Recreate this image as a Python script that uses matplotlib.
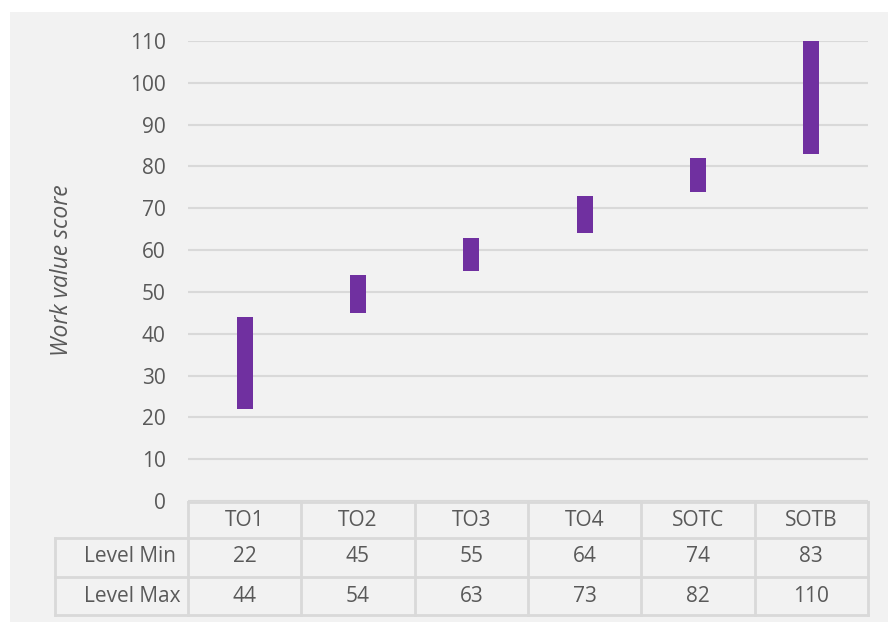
import matplotlib.pyplot as plt
from matplotlib.patches import Rectangle
import numpy as np

# Work value ranges per level
levels = ['TO1', 'TO2', 'TO3', 'TO4', 'SOTC', 'SOTB']
level_min = [22, 45, 55, 64, 74, 83]
level_max = [44, 54, 63, 73, 82, 110]
row_names = ['Level Min', 'Level Max']

bar_color = '#7030a0'
grid_color = '#d9d9d9'
text_color = '#595959'
bg_color = '#f2f2f2'
fs = 15

plt.rcParams['font.family'] = ['Open Sans', 'DejaVu Sans']

W, H = 888, 625
fig = plt.figure(figsize=(W / 100, H / 100), dpi=100)
fig.patch.set_facecolor('white')
fig.patches.append(Rectangle((10 / W, 3 / H), 1 - 10 / W, 1 - 15 / H,
                             transform=fig.transFigure, facecolor=bg_color,
                             edgecolor='none', zorder=-10))

ax = fig.add_axes([188 / W, 1 - 501 / H, 680 / W, 460 / H])
ax.set_facecolor('none')

x = np.arange(len(levels))
lo = np.array(level_min)
hi = np.array(level_max)
ax.bar(x, hi - lo, bottom=lo, width=0.14, color=bar_color, zorder=3)

ax.set_xlim(-0.5, len(levels) - 0.5)
ax.set_ylim(0, 110)
ax.set_yticks(np.arange(0, 111, 10))
ax.set_xticks([])
ax.yaxis.grid(True, color=grid_color, linewidth=1.5)
ax.set_axisbelow(True)
for s in ax.spines.values():
    s.set_visible(False)
ax.tick_params(axis='y', length=0, pad=16, labelsize=fs, labelcolor=text_color)

fig.text(62 / W, 1 - 270 / H, 'Work value score', rotation=90, style='italic',
         ha='center', va='center', fontsize=16.5, color=text_color)

# data table under the plot
tr = ax.get_xaxis_transform()
def ypx(y):
    return (501 - y) / 460

row_y = [ypx(502), ypx(538), ypx(577), ypx(615)]
x_left = -0.5
x_right = len(levels) - 0.5
x_lab = (55 - 188) / (680 / 6) - 0.5
lkw = dict(color=grid_color, linewidth=2, transform=tr, clip_on=False, zorder=2)

ax.plot([x_left, x_right], [row_y[0]] * 2, **lkw)
for yy in row_y[1:]:
    ax.plot([x_lab, x_right], [yy] * 2, **lkw)
for i in range(len(levels) + 1):
    ax.plot([i - 0.5] * 2, [row_y[0], row_y[3]], **lkw)
ax.plot([x_lab] * 2, [row_y[1], row_y[3]], **lkw)

tkw = dict(transform=tr, ha='center', va='center', fontsize=fs, color=text_color, clip_on=False)
for i, name in enumerate(levels):
    ax.text(i, ypx(520), name, **tkw)
    ax.text(i, ypx(557), str(level_min[i]), **tkw)
    ax.text(i, ypx(596), str(level_max[i]), **tkw)

x_name = (84 - 188) / (680 / 6) - 0.5
ax.text(x_name, ypx(557), row_names[0], transform=tr, ha='left', va='center',
        fontsize=fs, color=text_color)
ax.text(x_name, ypx(596), row_names[1], transform=tr, ha='left', va='center',
        fontsize=fs, color=text_color)

fig.savefig('out.png', dpi=100, facecolor=fig.get_facecolor())
